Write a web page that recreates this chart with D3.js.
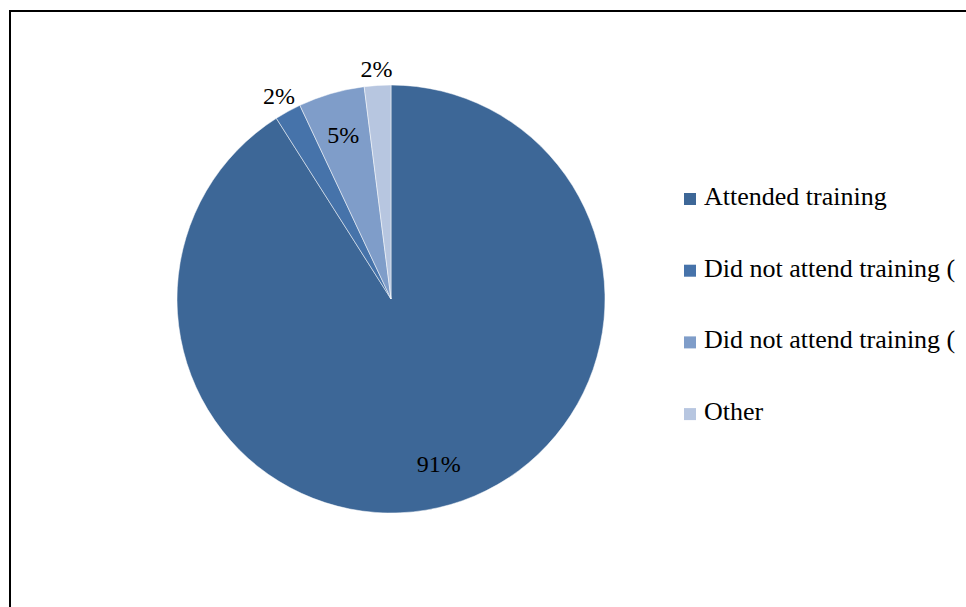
<!DOCTYPE html>
<html>
<head>
<meta charset="utf-8">
<script src="https://cdn.jsdelivr.net/npm/d3@7"></script>
<style>
  body { margin: 0; background: #fff; }
  svg { display: block; }
</style>
</head>
<body>
<svg width="966" height="607"></svg>
<script>
// legend entries 2 and 3 are cut off in the source at the "(", keep what is visible
var categories = ["Attended training", "Did not attend training (", "Did not attend training (", "Other"];
var values = [91, 2, 5, 2];
var labels = ["91%", "2%", "5%", "2%"];
var colors = ["#3d6797", "#4673aa", "#7f9dc9", "#b7c6e0"];
var labelOutside = [false, true, false, true];

var font = "'Liberation Serif', 'Times New Roman', Times, serif";
var svg = d3.select("svg");

// chart frame, runs off the right and bottom edges
svg.append("rect")
    .attr("x", 10).attr("y", 11)
    .attr("width", 1000).attr("height", 700)
    .attr("fill", "none")
    .attr("stroke", "#000")
    .attr("stroke-width", 2);

var cx = 391, cy = 299, r = 214;

var data = categories.map(function(c, i) {
    return { name: c, value: values[i], label: labels[i], color: colors[i], outside: labelOutside[i] };
});

var pie = d3.pie().sort(null).value(function(d) { return d.value; });
var arc = d3.arc().innerRadius(0).outerRadius(r);
var inArc = d3.arc().innerRadius(r * 0.8).outerRadius(r * 0.8);

var g = svg.append("g").attr("transform", "translate(" + cx + "," + cy + ")");
var arcs = pie(data);

g.selectAll("path")
    .data(arcs)
    .enter().append("path")
    .attr("d", arc)
    .attr("fill", function(d) { return d.data.color; })
    .attr("stroke", "#fff")
    .attr("stroke-width", 0.5);

var lab = g.selectAll("text")
    .data(arcs)
    .enter().append("text")
    .attr("text-anchor", "middle")
    .attr("dy", "0.35em")
    .style("font-family", font)
    .style("font-size", "24px")
    .attr("fill", "#000")
    .text(function(d) { return d.data.label; });

// inside labels sit on 0.8r, outside ones just clear of the rim
lab.attr("transform", function(d) {
    if (!d.data.outside) return "translate(" + inArc.centroid(d) + ")";
    var a = (d.startAngle + d.endAngle) / 2,
        s = Math.sin(a), c = -Math.cos(a),
        bb = this.getBBox(),
        hw = bb.width / 2, hh = 10,
        t = r + 7 + Math.min(Math.abs(s) > 1e-6 ? hw / Math.abs(s) : 1e9, Math.abs(c) > 1e-6 ? hh / Math.abs(c) : 1e9);
    return "translate(" + [s * t, c * t] + ")";
});

// legend
var legend = svg.append("g").attr("transform", "translate(684,199)");
var item = legend.selectAll("g")
    .data(data)
    .enter().append("g")
    .attr("transform", function(d, i) { return "translate(0," + (i * 71.7) + ")"; });

item.append("rect")
    .attr("x", 0).attr("y", -6)
    .attr("width", 12).attr("height", 12)
    .attr("fill", function(d) { return d.color; });

item.append("text")
    .attr("x", 20)
    .attr("y", 6)
    .style("font-family", font)
    .style("font-size", "26px")
    .attr("fill", "#000")
    .text(function(d) { return d.name; });
</script>
</body>
</html>
